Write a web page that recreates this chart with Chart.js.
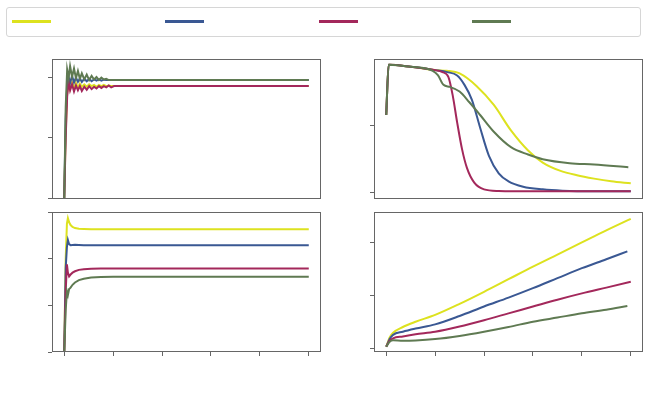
<!DOCTYPE html>
<html>
<head>
<meta charset="utf-8">
<script src="https://cdn.jsdelivr.net/npm/chart.js@4"></script>
<style>
  html, body { margin: 0; padding: 0; background: #fff; }
  #page { position: relative; width: 654px; height: 401px; overflow: hidden; }
  #page canvas { position: absolute; left: 0; top: 0; }
  #legend { position: absolute; left: 6px; top: 7px; width: 635px; height: 30px;
            border: 1px solid #d6d6d6; border-radius: 3px; box-sizing: border-box; }
  .swatch { position: absolute; top: 12px; width: 39px; height: 3px; }
</style>
</head>
<body>
<div id="page">
  <div id="legend"></div>
  <canvas id="tl" width="654" height="401"></canvas>
  <canvas id="tr" width="654" height="401"></canvas>
  <canvas id="bl" width="654" height="401"></canvas>
  <canvas id="br" width="654" height="401"></canvas>
</div>
<script>
// series order: yellow, blue, red, green (later ones drawn on top)
const colors = ["#dde21f", "#3a5893", "#a3285b", "#5f7a52"];
const xTicks = [0, 1, 2, 3, 4, 5];

// top left
const tlX = [0, 0.03, 0.06, 0.09, 0.12, 0.16, 0.2, 0.24, 0.28, 0.32, 0.36, 0.41, 0.46, 0.51, 0.56, 0.61, 0.66, 0.71, 0.76, 0.81, 0.86, 0.91, 0.96, 1.02, 1.08, 5.0];
const tlYellow = [0, 0.55, 0.87, 0.95, 0.9, 0.955, 0.91, 0.95, 0.915, 0.945, 0.92, 0.94, 0.92, 0.94, 0.925, 0.935, 0.92, 0.935, 0.925, 0.935, 0.925, 0.93, 0.925, 0.925, 0.925, 0.925];
const tlBlue = [0, 0.65, 0.93, 1.0, 0.95, 1.01, 0.955, 0.995, 0.96, 0.99, 0.96, 0.985, 0.965, 0.985, 0.965, 0.98, 0.97, 0.98, 0.97, 0.978, 0.975, 0.975, 0.975, 0.975, 0.975, 0.975];
const tlRed = [0, 0.5, 0.84, 0.96, 0.89, 0.94, 0.88, 0.93, 0.89, 0.925, 0.885, 0.92, 0.895, 0.925, 0.9, 0.92, 0.905, 0.925, 0.91, 0.925, 0.915, 0.93, 0.915, 0.925, 0.925, 0.925];
const tlGreen = [0, 0.75, 1.06, 0.99, 1.09, 1.0, 1.07, 0.99, 1.05, 0.985, 1.03, 0.98, 1.02, 0.975, 1.01, 0.98, 1.0, 0.975, 0.995, 0.98, 0.985, 0.975, 0.975, 0.975, 0.975, 0.975];
const tlTicks = [0, 0.5, 1.0];

// top right
const trYellowX = [0, 0.05, 0.5, 1.0, 1.24, 1.5, 1.85, 2.2, 2.55, 2.9, 3.2, 3.55, 3.9, 4.25, 4.6, 5.0];
const trYellow = [0.575, 0.95, 0.935, 0.91, 0.905, 0.885, 0.79, 0.65, 0.46, 0.31, 0.22, 0.16, 0.125, 0.1, 0.08, 0.065];
const trBlueX = [0, 0.05, 0.5, 1.0, 1.25, 1.45, 1.6, 1.75, 1.92, 2.1, 2.3, 2.5, 2.8, 3.2, 3.6, 4.2, 5.0];
const trBlue = [0.575, 0.95, 0.935, 0.91, 0.895, 0.87, 0.8, 0.69, 0.48, 0.27, 0.14, 0.08, 0.04, 0.02, 0.01, 0.005, 0.005];
const trRedX = [0, 0.05, 0.5, 1.0, 1.15, 1.27, 1.36, 1.45, 1.55, 1.65, 1.8, 2.0, 2.3, 3.0, 5.0];
const trRed = [0.575, 0.95, 0.935, 0.91, 0.895, 0.86, 0.72, 0.52, 0.32, 0.18, 0.07, 0.02, 0.008, 0.005, 0.005];
const trGreenX = [0, 0.05, 0.5, 0.95, 1.06, 1.17, 1.3, 1.5, 1.7, 1.92, 2.2, 2.55, 2.9, 3.2, 3.75, 4.25, 4.95];
const trGreen = [0.575, 0.95, 0.935, 0.905, 0.87, 0.8, 0.785, 0.75, 0.67, 0.575, 0.45, 0.335, 0.28, 0.245, 0.215, 0.205, 0.185];
const trTicks = [0, 0.5];

// bottom left
const blX = [0, 0.03, 0.055, 0.075, 0.1, 0.13, 0.17, 0.22, 0.3, 0.4, 0.55, 0.75, 1.0, 5.0];
const blYellow = [0, 2.0, 2.75, 2.87, 2.78, 2.72, 2.68, 2.655, 2.64, 2.635, 2.63, 2.63, 2.63, 2.63];
const blBlue = [0, 1.8, 2.25, 2.4, 2.31, 2.29, 2.295, 2.3, 2.295, 2.29, 2.29, 2.29, 2.29, 2.29];
const blRed = [0, 1.3, 1.88, 1.7, 1.62, 1.66, 1.7, 1.73, 1.76, 1.775, 1.785, 1.79, 1.79, 1.79];
const blGreen = [0, 0.9, 1.3, 1.22, 1.35, 1.38, 1.44, 1.49, 1.54, 1.57, 1.595, 1.605, 1.61, 1.61];
const blTicks = [0, 1, 2, 3];

// bottom right
const brX = [0, 0.07, 0.14, 0.34, 0.6, 1.0, 1.5, 2.0, 2.5, 3.0, 3.5, 4.0, 4.5, 5.0];
const brShortX = [0, 0.07, 0.14, 0.34, 0.6, 1.0, 1.5, 2.0, 2.5, 3.0, 3.5, 4.0, 4.5, 4.93];
const brYellow = [0.025, 0.2, 0.29, 0.4, 0.5, 0.63, 0.84, 1.07, 1.31, 1.55, 1.78, 2.01, 2.24, 2.46];
const brBlue = [0.025, 0.17, 0.25, 0.31, 0.37, 0.45, 0.61, 0.79, 0.96, 1.14, 1.33, 1.52, 1.69, 1.84];
const brRed = [0.025, 0.14, 0.185, 0.22, 0.26, 0.31, 0.41, 0.53, 0.66, 0.79, 0.92, 1.04, 1.15, 1.26];
const brGreen = [0.025, 0.12, 0.15, 0.14, 0.145, 0.17, 0.23, 0.31, 0.4, 0.5, 0.58, 0.66, 0.73, 0.80];
const brTicks = [0, 1, 2];

// legend swatches
const swatchLeft = [12, 165, 319, 472];
const legend = document.getElementById("legend");
colors.forEach((c, i) => {
  const s = document.createElement("div");
  s.className = "swatch";
  s.style.left = (swatchLeft[i] - 7) + "px";
  s.style.background = c;
  legend.appendChild(s);
});

const spineColor = "#666666";

const framePlugin = {
  id: "frame",
  afterDatasetsDraw(chart) {
    const a = chart.chartArea;
    const c = chart.ctx;
    c.save();
    c.strokeStyle = spineColor;
    c.lineWidth = 1;
    c.strokeRect(Math.round(a.left) + 0.5, Math.round(a.top) + 0.5,
                 Math.round(a.right - a.left) - 1, Math.round(a.bottom - a.top) - 1);
    c.restore();
  }
};

function pts(xs, ys) {
  return xs.map((x, i) => ({ x: x, y: ys[i] }));
}

function makeChart(id, sets, yMin, yMax, yTicks, box, showX, smooth) {
  new Chart(document.getElementById(id), {
    type: "line",
    data: {
      datasets: sets.map((d, i) => ({
        data: d,
        order: sets.length - i,
        borderColor: colors[i],
        borderWidth: 2,
        pointRadius: 0,
        fill: false,
        tension: smooth ? 0.4 : 0,
        cubicInterpolationMode: smooth ? "monotone" : "default"
      }))
    },
    options: {
      responsive: false,
      animation: false,
      events: [],
      layout: {
        padding: {
          left: box[0] - 4,
          top: box[1],
          right: 654 - box[2],
          bottom: 401 - box[3] - (showX ? 4 : 0)
        }
      },
      plugins: { legend: { display: false }, tooltip: { enabled: false } },
      scales: {
        x: {
          type: "linear",
          min: -0.25,
          max: 5.25,
          afterBuildTicks: s => { s.ticks = xTicks.map(v => ({ value: v })); },
          ticks: { display: false },
          grid: { display: showX, drawOnChartArea: false, drawTicks: showX, tickLength: 4, color: spineColor },
          border: { display: false }
        },
        y: {
          type: "linear",
          min: yMin,
          max: yMax,
          afterBuildTicks: s => { s.ticks = yTicks.map(v => ({ value: v })); },
          ticks: { display: false },
          grid: { drawOnChartArea: false, drawTicks: true, tickLength: 4, color: spineColor },
          border: { display: false }
        }
      }
    },
    plugins: [framePlugin]
  });
}

makeChart("tl",
  [pts(tlX, tlYellow), pts(tlX, tlBlue), pts(tlX, tlRed), pts(tlX, tlGreen)],
  -0.008, 1.149, tlTicks, [52, 59, 321, 199], false, false);

makeChart("tr",
  [pts(trYellowX, trYellow), pts(trBlueX, trBlue), pts(trRedX, trRed), pts(trGreenX, trGreen)],
  -0.052, 0.993, trTicks, [374, 59, 643, 199], false, true);

makeChart("bl",
  [pts(blX, blYellow), pts(blX, blBlue), pts(blX, blRed), pts(blX, blGreen)],
  0, 3, blTicks, [52, 212, 321, 352], true, false);

makeChart("br",
  [pts(brX, brYellow), pts(brShortX, brBlue), pts(brX, brRed), pts(brShortX, brGreen)],
  -0.076, 2.59, brTicks, [374, 212, 643, 352], true, true);
</script>
</body>
</html>
